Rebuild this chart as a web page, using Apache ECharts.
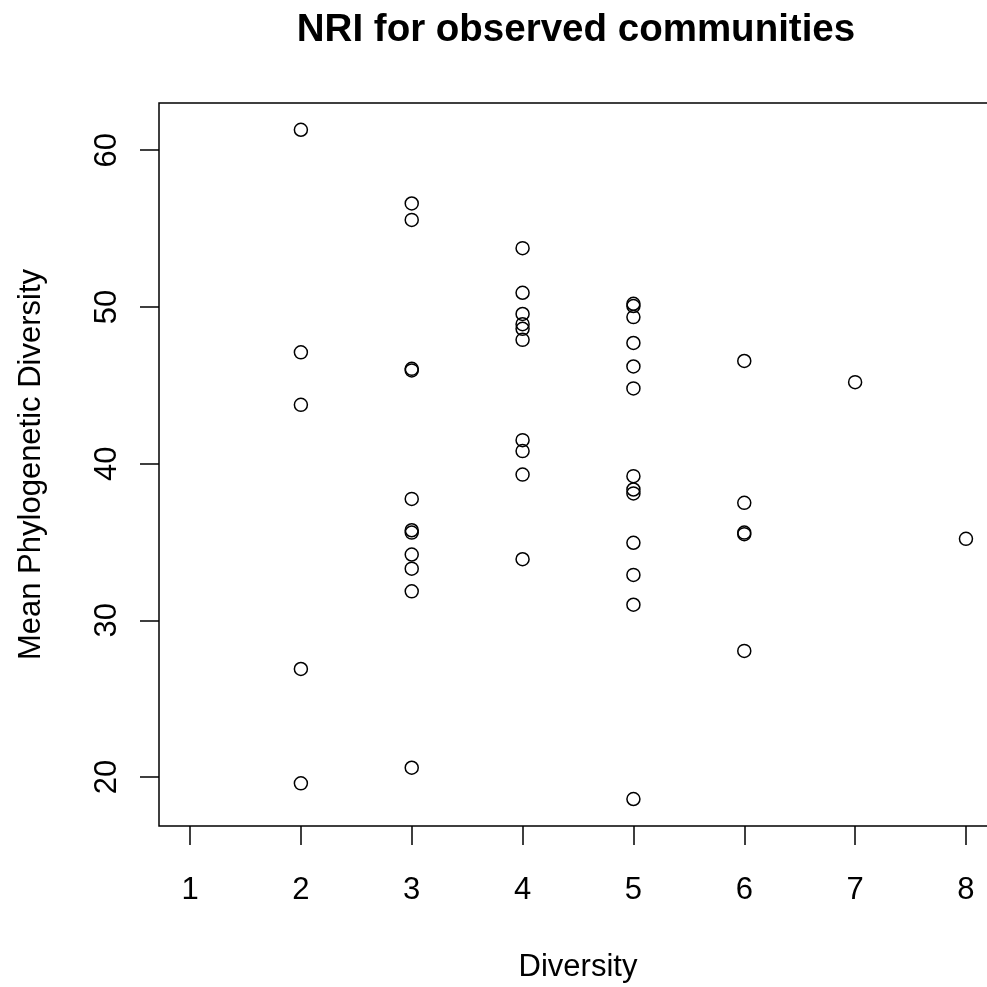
<!DOCTYPE html>
<html lang="en">
<head>
    <meta charset="UTF-8">
    <title>NRI for observed communities</title>
    <script src="https://cdn.jsdelivr.net/npm/echarts@6/dist/echarts.min.js"></script>
    <style>
        *{
            margin:0;
            padding:0;
        }
        html,body{
            height:100%;
            width:100%;
            background:#fff;
        }
        #chart{
            width:987px;
            height:987px;
        }
    </style>
</head>
<body>
    <div id="chart"></div>
    <script>
        // one entry per community: species count and its mean phylogenetic diversity
        var diversity=[
            2,2,2,2,2,
            3,3,3,3,3,3,3,3,3,3,3,
            4,4,4,4,4,4,4,4,4,4,
            5,5,5,5,5,5,5,5,5,5,5,5,5,
            6,6,6,6,6,
            7,
            8
        ];
        var meanPD=[
            61.3,47.1,43.75,26.9,19.6,
            56.6,55.55,46.05,45.95,37.75,35.75,35.6,34.2,33.3,31.85,20.6,
            53.75,50.9,49.55,48.9,48.6,47.9,41.5,40.8,39.3,33.9,
            50.2,50.05,49.35,47.7,46.2,44.8,39.2,38.35,38.1,34.95,32.9,31.0,18.6,
            46.55,37.5,35.6,35.5,28.05,
            45.2,
            35.2
        ];
        var xTicks=[1,2,3,4,5,6,7,8];
        var yTicks=[20,30,40,50,60];

        var points=[];
        for(var i=0;i<diversity.length;i++){
            points.push([diversity[i],meanPD[i]]);
        }

        var font="Liberation Sans";
        var myChart=echarts.init(document.getElementById("chart"),null,{renderer:"canvas"});
        var option={
            animation:false,
            backgroundColor:"#fff",
            title:{
                text:"NRI for observed communities",
                left:571,
                top:6,
                textAlign:"center",
                textStyle:{
                    fontFamily:font,
                    fontWeight:"bold",
                    fontSize:38.5,
                    color:"#000"
                }
            },
            grid:{
                left:159,
                right:-10,   // box runs past the right edge of the page, as in the original
                top:103,
                bottom:161,
                outerBoundsMode:"none",
                show:true,
                borderColor:"#000",
                borderWidth:1.5
            },
            xAxis:{
                type:"value",
                min:0.72,
                max:8.28,
                name:"Diversity",
                nameLocation:"middle",
                nameGap:126,
                nameTextStyle:{fontFamily:font,fontSize:31,color:"#000"},
                axisLine:{show:false},
                splitLine:{show:false},
                axisTick:{show:true,length:19,customValues:xTicks,lineStyle:{color:"#000",width:1.5}},
                axisLabel:{customValues:xTicks,margin:49,fontFamily:font,fontSize:31,color:"#000"}
            },
            yAxis:{
                type:"value",
                min:16.88,
                max:63.01,
                name:"Mean Phylogenetic Diversity",
                nameLocation:"middle",
                nameGap:112,
                nameTextStyle:{fontFamily:font,fontSize:31,color:"#000"},
                axisLine:{show:false},
                splitLine:{show:false},
                axisTick:{show:true,length:19,customValues:yTicks,lineStyle:{color:"#000",width:1.5}},
                axisLabel:{customValues:yTicks,rotate:90,margin:36,fontFamily:font,fontSize:31,color:"#000"}
            },
            series:[
                {
                    type:"scatter",
                    data:points,
                    symbol:"circle",
                    symbolSize:13,
                    itemStyle:{
                        color:"rgba(0,0,0,0)",
                        borderColor:"#000",
                        borderWidth:1.5,
                        opacity:1
                    },
                    emphasis:{disabled:true}
                }
            ]
        };
        myChart.setOption(option);
    </script>
</body>
</html>
